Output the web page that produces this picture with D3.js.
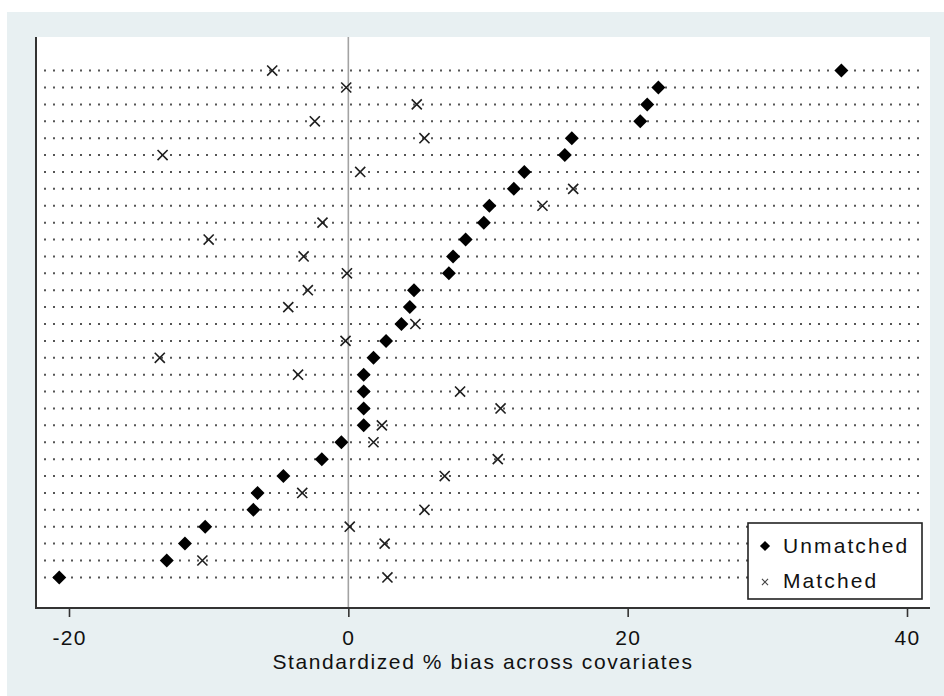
<!DOCTYPE html>
<html>
<head>
<meta charset="utf-8">
<script src="https://cdn.jsdelivr.net/npm/d3@7"></script>
<style>
  html, body { margin: 0; padding: 0; background: #ffffff; }
  svg { display: block; }
  text { font-family: "Liberation Sans", Arial, sans-serif; fill: #111; }
</style>
</head>
<body>
<div id="chart"></div>
<script>
// Covariates, ordered by unmatched bias (largest first)
const covariates = d3.range(1, 32).map(i => "x" + i);

// Standardized % bias per covariate, before and after matching
const unmatched = [35.3, 22.2, 21.4, 20.9, 16.0, 15.5, 12.6, 11.85, 10.1, 9.7,
                   8.4, 7.5, 7.2, 4.7, 4.4, 3.8, 2.7, 1.8, 1.1, 1.1,
                   1.1, 1.1, -0.5, -1.9, -4.65, -6.5, -6.8, -10.25, -11.7, -13.0,
                   -20.7];
const matched = [-5.45, -0.15, 4.9, -2.4, 5.45, -13.3, 0.85, 16.1, 13.9, -1.85,
                 -10.0, -3.2, -0.1, -2.9, -4.3, 4.8, -0.2, -13.5, -3.6, 8.0,
                 10.9, 2.4, 1.8, 10.7, 6.9, -3.3, 5.45, 0.1, 2.6, -10.45,
                 2.8];

const xTicks = [-20, 0, 20, 40];
const seriesNames = ["Unmatched", "Matched"];
const xTitle = "Standardized % bias across covariates";

const W = 944, H = 696;
const plot = { left: 36, right: 930, top: 37, bottom: 608 };

const svg = d3.select("#chart").append("svg")
  .attr("width", W).attr("height", H);

// outer graph region
svg.append("rect")
  .attr("x", 7).attr("y", 12).attr("width", W - 7).attr("height", H - 12)
  .attr("fill", "#e8f0f2");

// plot region
svg.append("rect")
  .attr("x", plot.left).attr("y", plot.top)
  .attr("width", plot.right - plot.left).attr("height", plot.bottom - plot.top)
  .attr("fill", "#ffffff");

const x = d3.scaleLinear().domain([-20, 40]).range([69, 907]);
const y = d3.scalePoint().domain(covariates).range([plot.top + 1.5, plot.bottom + 1.5]).padding(1.9);

// dotted guide line per covariate
svg.append("g").selectAll("line")
  .data(covariates)
  .join("line")
  .attr("x1", 44).attr("x2", 924)
  .attr("y1", d => y(d)).attr("y2", d => y(d))
  .attr("stroke", "#555")
  .attr("stroke-width", 2)
  .attr("stroke-dasharray", "2,7");

// reference line at zero
svg.append("line")
  .attr("x1", x(0)).attr("x2", x(0))
  .attr("y1", plot.top).attr("y2", plot.bottom)
  .attr("stroke", "#a3a3a3").attr("stroke-width", 1.6);

// matched: crosses
const xSym = d3.symbol().type(d3.symbolX).size(68);
svg.append("g").selectAll("path")
  .data(matched)
  .join("path")
  .attr("d", xSym)
  .attr("transform", (d, i) => `translate(${x(d)},${y(covariates[i])})`)
  .attr("fill", "none")
  .attr("stroke", "#1e1e1e")
  .attr("stroke-width", 1.6);

// unmatched: filled diamonds
const dSym = d3.symbol().type(d3.symbolSquare).size(98);
svg.append("g").selectAll("path")
  .data(unmatched)
  .join("path")
  .attr("d", dSym)
  .attr("transform", (d, i) => `translate(${x(d)},${y(covariates[i])}) rotate(45)`)
  .attr("fill", "#000");

// axes
const axisColor = "#333";
svg.append("line")
  .attr("x1", plot.left).attr("x2", plot.left)
  .attr("y1", plot.top).attr("y2", plot.bottom + 1)
  .attr("stroke", axisColor).attr("stroke-width", 2);

const xAxis = svg.append("g")
  .attr("transform", `translate(0,${plot.bottom})`)
  .call(d3.axisBottom(x).tickValues(xTicks).tickFormat(d => String(d))
        .tickSize(9).tickSizeOuter(0).tickPadding(14));
xAxis.select(".domain").remove();
xAxis.append("line")
  .attr("x1", plot.left - 1).attr("x2", plot.right)
  .attr("stroke", axisColor).attr("stroke-width", 2);
xAxis.selectAll(".tick line").attr("stroke", axisColor).attr("stroke-width", 1.6);
xAxis.selectAll(".tick text")
  .attr("fill", "#111")
  .attr("y", 37).attr("dy", null)
  .style("font-family", '"Liberation Sans", Arial, sans-serif')
  .style("font-size", "21px")
  .style("letter-spacing", "1.3px");

svg.append("text")
  .attr("x", (plot.left + plot.right) / 2)
  .attr("y", 669)
  .attr("text-anchor", "middle")
  .style("font-size", "21px")
  .style("letter-spacing", "1.6px")
  .text(xTitle);

// legend
const lg = svg.append("g");
lg.append("rect")
  .attr("x", 748).attr("y", 523).attr("width", 174).attr("height", 76)
  .attr("fill", "#fff").attr("stroke", "#222").attr("stroke-width", 1.6);
lg.append("path")
  .attr("d", d3.symbol().type(d3.symbolSquare).size(52))
  .attr("transform", "translate(765,546) rotate(45)")
  .attr("fill", "#000");
lg.append("path")
  .attr("d", d3.symbol().type(d3.symbolX).size(26))
  .attr("transform", "translate(765,582)")
  .attr("fill", "none").attr("stroke", "#444").attr("stroke-width", 1.1);
lg.selectAll("text.lab")
  .data(seriesNames)
  .join("text")
  .attr("class", "lab")
  .attr("x", 783)
  .attr("y", (d, i) => 553 + i * 35)
  .style("font-size", "21px")
  .style("letter-spacing", "2.1px")
  .text(d => d);
</script>
</body>
</html>
